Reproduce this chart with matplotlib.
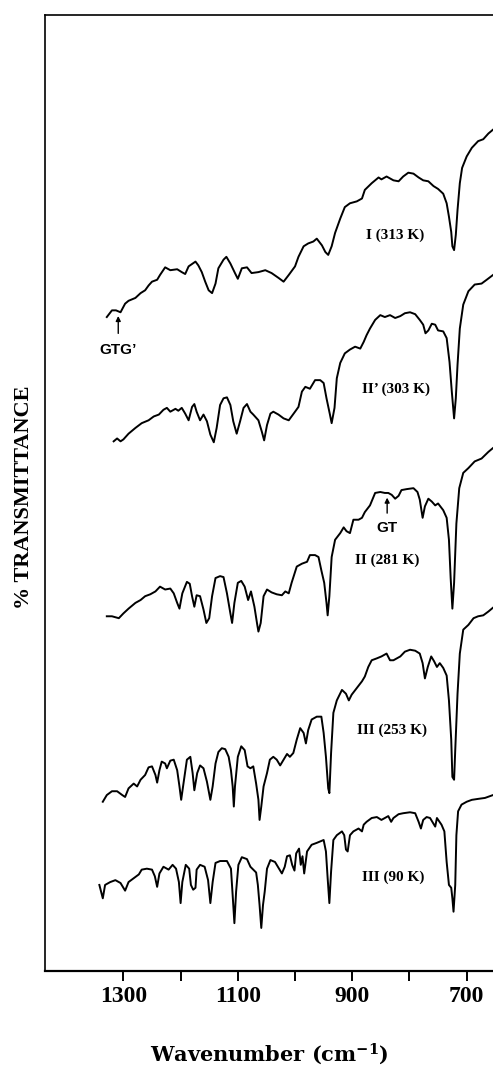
import matplotlib
matplotlib.use("Agg")
import matplotlib.pyplot as plt
import numpy as np

plt.rcParams['font.family'] = ['Liberation Serif', 'DejaVu Serif']
plt.rcParams['mathtext.fontset'] = 'custom'
plt.rcParams['mathtext.rm'] = 'DejaVu Serif:bold'
plt.rcParams['mathtext.default'] = 'rm'

# ---- spectra (wavenumber, offset %T) ----
wn_313 = [1329, 1320, 1313, 1305, 1297, 1291, 1279, 1270, 1262, 1256, 1250, 1241, 1236, 1227, 1218,
          1206, 1198, 1192, 1186, 1174, 1169, 1163, 1157, 1151, 1145, 1139, 1134, 1125, 1120, 1113,
          1105, 1100, 1093, 1084, 1076, 1064, 1052, 1041, 1029, 1020, 1011, 1000, 994, 985, 977,
          968, 962, 953, 947, 942, 936, 930, 921, 913, 904, 892, 883, 878, 866, 854, 849, 840, 828,
          819, 811, 802, 793, 784, 776, 767, 758, 750, 741, 735, 731, 727, 725, 722, 719, 716, 712,
          708, 700, 691, 680, 671, 662, 654, 645]
t_313 = [68.4, 69.1, 69.1, 68.9, 69.8, 70.1, 70.4, 70.9, 71.2, 71.7, 72.1, 72.3, 72.8, 73.6, 73.3,
         73.4, 73.1, 72.9, 73.7, 74.2, 73.8, 73.1, 72.1, 71.2, 70.9, 71.9, 73.5, 74.4, 74.7, 74.0,
         73.0, 72.4, 73.5, 73.6, 73.0, 73.1, 73.3, 73.0, 72.5, 72.1, 72.8, 73.7, 74.7, 75.8, 76.1,
         76.3, 76.6, 75.9, 75.2, 74.9, 75.8, 77.2, 78.7, 79.9, 80.3, 80.5, 80.8, 81.7, 82.4, 83.0,
         82.8, 83.1, 82.7, 82.6, 83.1, 83.5, 83.4, 83.0, 82.7, 82.6, 82.1, 81.8, 81.3, 80.3, 78.9,
         77.3, 75.8, 75.4, 77.0, 79.6, 82.4, 84.0, 85.2, 86.1, 86.8, 87.0, 87.6, 88.0, 88.4]

wn_303 = [1317, 1311, 1305, 1300, 1291, 1279, 1268, 1256, 1247, 1238, 1230, 1224, 1218, 1209, 1204,
          1198, 1192, 1186, 1180, 1176, 1172, 1166, 1160, 1154, 1148, 1142, 1137, 1131, 1125, 1119,
          1113, 1108, 1102, 1096, 1090, 1084, 1078, 1073, 1064, 1058, 1054, 1049, 1043, 1038, 1029,
          1020, 1011, 1000, 994, 988, 982, 974, 965, 956, 950, 945, 939, 936, 931, 927, 921, 913,
          904, 895, 886, 880, 875, 869, 860, 851, 843, 834, 825, 816, 808, 799, 790, 782, 776, 772,
          767, 761, 755, 750, 741, 735, 730, 726, 722, 719, 716, 712, 706, 697, 686, 674, 665, 654, 645]
t_303 = [55.4, 55.7, 55.4, 55.6, 56.2, 56.8, 57.3, 57.6, 58.0, 58.2, 58.7, 58.9, 58.5, 58.8, 58.6,
         58.9, 58.3, 57.6, 59.0, 59.3, 58.5, 57.6, 58.2, 57.5, 56.1, 55.3, 56.8, 59.2, 59.9, 60.0,
         59.2, 57.5, 56.2, 57.5, 58.9, 59.3, 58.5, 58.2, 57.6, 56.4, 55.5, 57.1, 58.3, 58.5, 58.2,
         57.8, 57.6, 58.5, 59.0, 60.6, 61.1, 60.9, 61.8, 61.8, 61.5, 59.9, 58.2, 57.3, 58.9, 62.0,
         63.6, 64.6, 65.0, 65.3, 65.1, 65.8, 66.5, 67.2, 68.1, 68.6, 68.4, 68.6, 68.3, 68.5, 68.8,
         68.9, 68.7, 68.1, 67.6, 66.7, 67.0, 67.7, 67.6, 67.0, 66.9, 66.2, 63.7, 60.6, 57.8, 59.9,
         63.4, 67.2, 69.7, 71.1, 71.8, 71.9, 72.3, 72.8, 73.2]

wn_281 = [1329, 1320, 1308, 1300, 1291, 1279, 1270, 1262, 1253, 1244, 1236, 1227, 1218, 1212, 1206,
          1202, 1197, 1189, 1184, 1180, 1176, 1172, 1166, 1160, 1155, 1150, 1145, 1139, 1131, 1125,
          1119, 1113, 1110, 1106, 1100, 1094, 1088, 1082, 1077, 1071, 1066, 1064, 1060, 1055, 1049,
          1041, 1032, 1023, 1017, 1011, 1006, 997, 988, 979, 974, 965, 959, 954, 949, 945, 943, 940,
          936, 930, 921, 915, 910, 904, 898, 889, 883, 878, 869, 860, 851, 843, 837, 831, 825, 819,
          814, 805, 793, 786, 782, 777, 773, 767, 761, 755, 750, 741, 735, 731, 728, 725, 722, 718,
          713, 706, 697, 686, 674, 662, 654, 645]
t_281 = [37.1, 37.1, 36.9, 37.4, 37.9, 38.5, 38.8, 39.2, 39.4, 39.7, 40.2, 39.9, 40.0, 39.5, 38.5,
         37.9, 39.5, 40.7, 40.5, 39.2, 38.1, 39.3, 39.2, 37.8, 36.4, 36.9, 39.2, 41.1, 41.3, 41.2,
         39.5, 37.4, 36.4, 38.5, 40.6, 40.8, 40.2, 38.8, 39.7, 38.1, 36.2, 35.5, 36.4, 39.2, 39.9,
         39.6, 39.4, 39.3, 39.7, 39.5, 40.6, 42.3, 42.6, 42.8, 43.5, 43.5, 43.3, 41.9, 40.6, 38.5,
         37.2, 39.2, 43.3, 45.1, 45.8, 46.4, 46.0, 45.8, 47.2, 47.2, 47.4, 48.0, 48.7, 50.0, 50.1,
         50.0, 50.0, 49.8, 49.4, 49.7, 50.3, 50.4, 50.5, 50.1, 49.3, 47.4, 48.6, 49.4, 49.1, 48.7,
         48.9, 48.2, 47.4, 45.1, 41.1, 37.9, 40.6, 46.8, 50.5, 52.1, 52.6, 53.3, 53.6, 54.3, 54.7, 55.1]

wn_253 = [1336, 1329, 1320, 1311, 1302, 1297, 1291, 1282, 1276, 1270, 1262, 1256, 1250, 1244, 1241,
          1237, 1233, 1227, 1224, 1218, 1212, 1206, 1202, 1199, 1195, 1189, 1183, 1179, 1176, 1171,
          1166, 1160, 1154, 1148, 1144, 1139, 1134, 1128, 1122, 1116, 1112, 1109, 1107, 1105, 1100,
          1094, 1088, 1083, 1078, 1073, 1068, 1064, 1062, 1059, 1055, 1049, 1044, 1038, 1032, 1026,
          1020, 1014, 1009, 1003, 997, 991, 985, 981, 977, 971, 962, 954, 950, 946, 942, 940, 937,
          933, 927, 918, 911, 906, 901, 892, 883, 878, 872, 866, 857, 849, 840, 834, 828, 822, 816,
          808, 799, 790, 782, 777, 773, 768, 762, 757, 752, 747, 741, 735, 731, 727, 725, 722, 720,
          716, 712, 706, 697, 688, 680, 671, 662, 654, 645]
t_253 = [17.7, 18.4, 18.8, 18.8, 18.4, 18.2, 19.1, 19.6, 19.3, 20.0, 20.5, 21.3, 21.4, 20.5, 19.7,
         21.0, 21.9, 21.7, 21.2, 22.0, 22.1, 21.0, 19.3, 17.9, 19.6, 22.1, 22.4, 20.7, 18.9, 20.7,
         21.5, 21.2, 19.8, 17.9, 19.3, 21.7, 22.9, 23.3, 23.2, 22.4, 21.0, 19.3, 17.2, 19.3, 22.4,
         23.5, 23.1, 21.4, 21.2, 21.4, 19.6, 17.9, 15.8, 17.2, 19.3, 20.7, 22.1, 22.4, 22.1, 21.5,
         22.1, 22.7, 22.4, 22.8, 24.2, 25.4, 24.9, 23.8, 25.2, 26.3, 26.6, 26.6, 24.9, 22.4, 19.1,
         18.6, 22.8, 27.0, 28.3, 29.4, 29.0, 28.3, 28.9, 29.6, 30.3, 30.8, 31.8, 32.5, 32.7, 32.9,
         33.2, 32.5, 32.5, 32.7, 32.9, 33.4, 33.6, 33.5, 33.2, 32.2, 30.6, 31.8, 32.9, 32.4, 31.8,
         32.2, 31.7, 30.9, 28.3, 24.2, 20.3, 20.0, 23.1, 29.0, 33.2, 35.7, 36.2, 36.9, 37.1, 37.2,
         37.6, 38.0, 38.4]

wn_90 = [1342, 1336, 1332, 1323, 1314, 1305, 1297, 1291, 1282, 1273, 1268, 1259, 1250, 1245, 1241,
         1237, 1230, 1221, 1214, 1208, 1203, 1200, 1197, 1191, 1185, 1182, 1178, 1174, 1172, 1166,
         1158, 1152, 1148, 1144, 1139, 1131, 1119, 1112, 1109, 1106, 1103, 1099, 1093, 1084, 1078,
         1073, 1068, 1065, 1062, 1059, 1056, 1053, 1049, 1043, 1035, 1028, 1023, 1018, 1014, 1009,
         1005, 1001, 998, 993, 990, 987, 984, 979, 971, 962, 950, 946, 943, 940, 937, 933, 927, 918,
         914, 911, 908, 904, 898, 889, 883, 880, 875, 866, 857, 849, 843, 837, 832, 828, 819, 811,
         799, 790, 784, 780, 776, 770, 764, 758, 755, 752, 744, 739, 735, 731, 727, 725, 723, 720,
         718, 715, 709, 700, 691, 680, 668, 654, 645]
t_90 = [9.0, 7.6, 9.0, 9.3, 9.5, 9.2, 8.4, 9.3, 9.7, 10.1, 10.6, 10.7, 10.6, 9.9, 8.8,
        10.2, 10.9, 10.6, 11.1, 10.7, 9.3, 7.1, 9.3, 11.1, 10.7, 9.0, 8.5, 8.7, 10.6, 11.1,
        10.9, 9.5, 7.1, 9.3, 11.3, 11.5, 11.5, 10.7, 7.9, 5.0, 8.3, 11.1, 11.9, 11.7, 10.9,
        10.6, 10.3, 9.0, 6.9, 4.5, 6.9, 8.3, 10.7, 11.6, 11.4, 10.7, 10.2, 10.9, 12.0, 12.1,
        11.1, 10.5, 12.3, 12.8, 11.1, 12.0, 10.2, 12.5, 13.2, 13.4, 13.7, 12.5, 9.7, 7.1, 10.4,
        13.7, 14.2, 14.6, 14.2, 12.7, 12.5, 14.2, 14.6, 14.9, 14.6, 15.3, 15.6, 16.0, 16.1, 15.8,
        16.0, 16.2, 15.6, 16.0, 16.4, 16.5, 16.6, 16.5, 15.6, 14.9, 15.8, 16.1, 16.0, 15.4, 15.1,
        16.0, 15.3, 14.6, 11.4, 9.0, 8.7, 7.6, 6.2, 9.0, 14.2, 16.7, 17.4, 17.7, 17.9, 18.0,
        18.1, 18.4, 18.5]

labels = ['I (313 K)', 'II\u2019 (303 K)', 'II (281 K)', 'III (253 K)', 'III (90 K)']
label_wn = [825, 824, 839, 830, 828]
label_t = [77.0, 60.8, 43.0, 25.2, 9.8]

fig = plt.figure(figsize=(4.93, 10.67), dpi=100)
ax = fig.add_axes([0.0913, 0.090, 0.9087, 0.896])

for wn, t in [(wn_313, t_313), (wn_303, t_303), (wn_281, t_281), (wn_253, t_253), (wn_90, t_90)]:
    ax.plot(wn, t, color='black', lw=1.4, solid_joinstyle='round')

for lab, x, y in zip(labels, label_wn, label_t):
    ax.text(x, y, lab, ha='center', va='center', fontsize=11, fontweight='bold')

# conformer markers
ax.annotate('', xy=(1309, 68.8), xytext=(1309, 66.4),
            arrowprops=dict(arrowstyle='-|>', color='black', lw=1.0, mutation_scale=7))
ax.text(1309, 65.0, 'GTG\u2019', ha='center', va='center', fontsize=11, fontweight='bold',
        family=['Liberation Sans', 'DejaVu Sans'])
ax.annotate('', xy=(839, 49.8), xytext=(839, 47.6),
            arrowprops=dict(arrowstyle='-|>', color='black', lw=1.0, mutation_scale=7))
ax.text(839, 46.3, 'GT', ha='center', va='center', fontsize=11, fontweight='bold',
        family=['Liberation Sans', 'DejaVu Sans'])

ax.set_xlim(1437, 654)
ax.set_ylim(0, 100)
ax.set_xticks([1300, 1100, 900, 700])
ax.set_xticks([1200, 1000, 800], minor=True)
ax.set_yticks([])
ax.tick_params(axis='x', which='both', direction='out', length=7, width=1.4, pad=3.5,
               labelsize=17)
for lab in ax.get_xticklabels():
    lab.set_fontweight('bold')
ax.spines['right'].set_visible(False)
for s in ['left', 'top']:
    ax.spines[s].set_linewidth(1.2)
ax.spines['bottom'].set_linewidth(1.6)

ax.set_xlabel('Wavenumber (cm$^{-1}$)', fontsize=15, fontweight='bold', labelpad=25,
              family=['DejaVu Serif'])
ax.set_ylabel('% TRANSMITTANCE', fontsize=16, fontweight='bold')
ax.yaxis.set_label_coords(-0.047, 0.495)
ax.yaxis.label.set_va('center')

fig.savefig('out.png', dpi=100)
